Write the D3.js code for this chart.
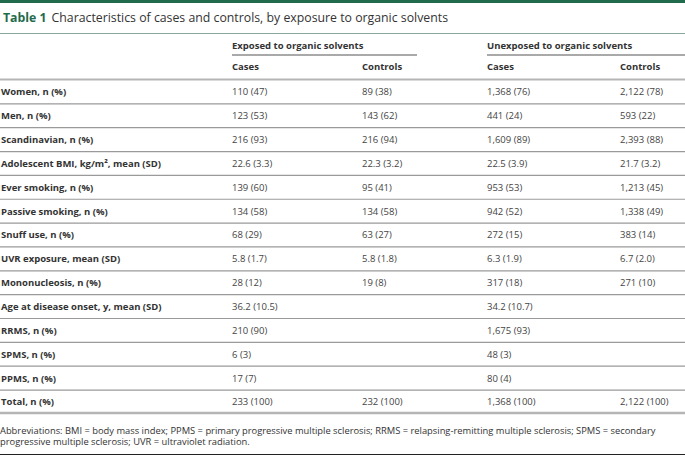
<!DOCTYPE html>
<html>
<head>
<meta charset="utf-8">
<script src="https://cdn.jsdelivr.net/npm/d3@7"></script>
<style>
  body { margin: 0; background: #fff; }
  svg { display: block; font-family: "Open Sans", sans-serif; }
</style>
</head>
<body>
<div id="table_container"></div>
<script>
const GREEN = "#1f6b4c";
const TEXT_COLOR = "#333333";
const RULE_COLOR = "#9a9a9a";
const BODY_SIZE = "9.5px";

const titleLabel = "Table 1";
const titleText = "Characteristics of cases and controls, by exposure to organic solvents";
const groupLabels = ["Exposed to organic solvents", "Unexposed to organic solvents"];
const subLabels = ["Cases", "Controls", "Cases", "Controls"];

const rowLabels = [
	"Women, n (%)",
	"Men, n (%)",
	"Scandinavian, n (%)",
	"Adolescent BMI, kg/m², mean (SD)",
	"Ever smoking, n (%)",
	"Passive smoking, n (%)",
	"Snuff use, n (%)",
	"UVR exposure, mean (SD)",
	"Mononucleosis, n (%)",
	"Age at disease onset, y, mean (SD)",
	"RRMS, n (%)",
	"SPMS, n (%)",
	"PPMS, n (%)",
	"Total, n (%)",
];
const exposedCases = ["110 (47)", "123 (53)", "216 (93)", "22.6 (3.3)", "139 (60)", "134 (58)", "68 (29)", "5.8 (1.7)", "28 (12)", "36.2 (10.5)", "210 (90)", "6 (3)", "17 (7)", "233 (100)"];
const exposedControls = ["89 (38)", "143 (62)", "216 (94)", "22.3 (3.2)", "95 (41)", "134 (58)", "63 (27)", "5.8 (1.8)", "19 (8)", "", "", "", "", "232 (100)"];
const unexposedCases = ["1,368 (76)", "441 (24)", "1,609 (89)", "22.5 (3.9)", "953 (53)", "942 (52)", "272 (15)", "6.3 (1.9)", "317 (18)", "34.2 (10.7)", "1,675 (93)", "48 (3)", "80 (4)", "1,368 (100)"];
const unexposedControls = ["2,122 (78)", "593 (22)", "2,393 (88)", "21.7 (3.2)", "1,213 (45)", "1,338 (49)", "383 (14)", "6.7 (2.0)", "271 (10)", "", "", "", "", "2,122 (100)"];

const footnoteLines = [
	"Abbreviations: BMI = body mass index; PPMS = primary progressive multiple sclerosis; RRMS = relapsing-remitting multiple sclerosis; SPMS = secondary",
	"progressive multiple sclerosis; UVR = ultraviolet radiation.",
];

let width = 685;
let height = 456;

let svg = d3
	.select("#table_container")
	.append("svg")
	.attr("width", width)
	.attr("height", height);

// column positions
const columns = ["label", "expCases", "expControls", "unexpCases", "unexpControls"];
const colX = d3.scaleOrdinal().domain(columns).range([1, 232, 362, 487, 620]);

// rows
let y = d3.scaleBand().domain(d3.range(rowLabels.length)).range([80, 80 + 23.85 * rowLabels.length]);

// top bar + title
svg.append("rect").attr("x", 0).attr("y", 0).attr("width", width).attr("height", 3).attr("fill", GREEN);

let title = svg.append("text").attr("x", 3).attr("y", 22).attr("font-size", "12.3px").attr("fill", TEXT_COLOR);
title.append("tspan").attr("font-weight", "bold").attr("fill", GREEN).text(titleLabel);
title.append("tspan").attr("dx", 5).text(titleText);

svg.append("line")
	.attr("x1", 0).attr("x2", width)
	.attr("y1", 33.5).attr("y2", 33.5)
	.attr("stroke", "#8aa79c").attr("stroke-width", 1);

// group headers
const groupSpans = [
	[colX("expCases"), 417],
	[colX("unexpCases"), width],
];
svg.append("g")
	.selectAll("text")
	.data(groupLabels)
	.join("text")
	.attr("x", (d, i) => groupSpans[i][0])
	.attr("y", 49)
	.attr("font-size", BODY_SIZE)
	.attr("font-weight", "bold")
	.attr("fill", TEXT_COLOR)
	.text((d) => d);

svg.append("g")
	.selectAll("line")
	.data(groupSpans)
	.join("line")
	.attr("x1", (d) => d[0])
	.attr("x2", (d) => d[1])
	.attr("y1", 55).attr("y2", 55)
	.attr("stroke", "#555").attr("stroke-width", 1.2);

svg.append("g")
	.selectAll("text")
	.data(subLabels)
	.join("text")
	.attr("x", (d, i) => colX(columns[i + 1]))
	.attr("y", 69.5)
	.attr("font-size", BODY_SIZE)
	.attr("font-weight", "bold")
	.attr("fill", TEXT_COLOR)
	.text((d) => d);

// header rule
svg.append("line")
	.attr("x1", 0).attr("x2", width)
	.attr("y1", 79.5).attr("y2", 79.5)
	.attr("stroke", "#b5b5b5").attr("stroke-width", 2);

// row separators
svg.append("g")
	.selectAll("line")
	.data(d3.range(1, rowLabels.length))
	.join("line")
	.attr("x1", 0).attr("x2", width)
	.attr("y1", (d) => y(d)).attr("y2", (d) => y(d))
	.attr("stroke", RULE_COLOR).attr("stroke-width", 1.2);

// bottom rule
svg.append("line")
	.attr("x1", 0).attr("x2", width)
	.attr("y1", y.range()[1] - 1).attr("y2", y.range()[1] - 1)
	.attr("stroke", "#b5b5b5").attr("stroke-width", 2.5);

// cells
const rows = rowLabels.map((d, i) => ({
	label: d,
	expCases: exposedCases[i],
	expControls: exposedControls[i],
	unexpCases: unexposedCases[i],
	unexpControls: unexposedControls[i],
}));

let rowG = svg.append("g")
	.selectAll("g")
	.data(rows)
	.join("g")
	.attr("transform", (d, i) => "translate(0," + (y(i) + y.bandwidth() / 2 + 3.4) + ")");

rowG.selectAll("text")
	.data((d) => columns.map((c) => ({ col: c, value: d[c] })))
	.join("text")
	.attr("x", (d) => colX(d.col))
	.attr("font-size", BODY_SIZE)
	.attr("font-weight", (d) => (d.col === "label" ? "bold" : "normal"))
	.attr("fill", (d) => (d.col === "label" ? TEXT_COLOR : "#444"))
	.text((d) => d.value);

// footnote
svg.append("g")
	.selectAll("text")
	.data(footnoteLines)
	.join("text")
	.attr("x", 0)
	.attr("y", (d, i) => 433.5 + i * 11.5)
	.attr("font-size", "9.36px")
	.attr("fill", TEXT_COLOR)
	.text((d) => d);

svg.append("line")
	.attr("x1", 0).attr("x2", width)
	.attr("y1", 454.5).attr("y2", 454.5)
	.attr("stroke", "#222").attr("stroke-width", 1.2);
</script>
</body>
</html>
